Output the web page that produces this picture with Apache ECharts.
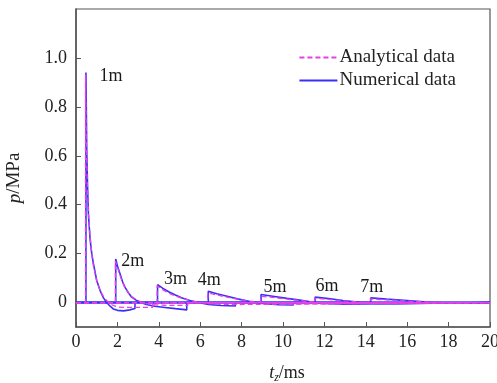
<!DOCTYPE html>
<html><head><meta charset="utf-8">
<script src="https://cdn.jsdelivr.net/npm/echarts@6/dist/echarts.min.js"></script>
<style>html,body{margin:0;padding:0;background:#fff}#c{width:497px;height:383px}</style>
</head><body><div id="c"></div>
<script>
// distances (labels) for each pulse
const distances = ['1m','2m','3m','4m','5m','6m','7m'];
const xTicks = [0,2,4,6,8,10,12,14,16,18,20];
const yTicks = [0,0.2,0.4,0.6,0.8,1.0];

// Numerical data: [t (ms), p (MPa)]
const num1m = [[0,0],[0.48,0],[0.48,0.94],[0.52,0.62],[0.56,0.47],[0.6,0.36],[0.68,0.26],[0.76,0.2],[0.84,0.16],[1.0,0.09],[1.16,0.05],[1.32,0.02],[1.48,0.0],[1.65,-0.015],[1.8,-0.026],[2.0,-0.032],[2.3,-0.034],[2.6,-0.03],[2.85,-0.024],[2.85,0],[20,0]];
const num2m = [[0,0],[1.92,0],[1.92,0.178],[2.0,0.15],[2.13,0.117],[2.25,0.085],[2.37,0.062],[2.53,0.04],[2.69,0.022],[2.9,0.01],[3.1,0.001],[3.4,-0.008],[3.8,-0.015],[4.3,-0.02],[4.8,-0.025],[5.35,-0.03],[5.35,0],[20,0]];
const num3m = [[0,0],[3.94,0],[3.94,0.073],[4.2,0.058],[4.5,0.043],[4.8,0.031],[5.1,0.02],[5.5,0.008],[5.9,0.0],[6.4,-0.008],[7.0,-0.012],[7.7,-0.014],[7.7,0],[20,0]];
const num4m = [[0,0],[6.39,0],[6.39,0.046],[6.8,0.036],[7.3,0.026],[7.8,0.015],[8.4,0.004],[9.0,-0.004],[9.8,-0.009],[10.5,-0.01],[10.5,0],[20,0]];
const num5m = [[0,0],[8.94,0],[8.94,0.033],[9.5,0.026],[10.2,0.017],[10.8,0.01],[11.4,0.002],[12.0,-0.004],[13.0,-0.007],[13.0,0],[20,0]];
const num6m = [[0,0],[11.55,0],[11.55,0.022],[12.2,0.016],[12.9,0.008],[13.7,0.001],[14.5,-0.004],[15.5,-0.005],[15.5,0],[20,0]];
const num7m = [[0,0],[14.24,0],[14.24,0.019],[15.0,0.014],[16.0,0.008],[17.1,0.001],[18.0,-0.002],[19.0,-0.002],[19.0,0],[20,0]];

// Analytical data: [t (ms), p (MPa)]
const ana1m = [[0,0],[0.46,0],[0.46,0.93],[0.5,0.66],[0.55,0.48],[0.6,0.37],[0.68,0.27],[0.76,0.2],[0.84,0.15],[1.0,0.09],[1.16,0.05],[1.32,0.025],[1.48,0.008],[1.65,-0.005],[1.8,-0.012],[2.0,-0.018],[2.4,-0.02],[2.85,-0.02],[3.7,-0.02],[3.7,0],[20,0]];
const ana2m = [[0,0],[1.9,0],[1.9,0.17],[2.0,0.145],[2.13,0.11],[2.25,0.082],[2.37,0.06],[2.53,0.04],[2.69,0.025],[2.9,0.012],[3.1,0.004],[3.4,-0.004],[3.8,-0.009],[4.5,-0.012],[5.4,-0.012],[5.4,0],[20,0]];
const ana3m = [[0,0],[3.92,0],[3.92,0.068],[4.2,0.052],[4.5,0.038],[4.8,0.027],[5.1,0.018],[5.5,0.009],[5.9,0.002],[6.4,-0.004],[7.0,-0.007],[7.9,-0.008],[7.9,0],[20,0]];
const ana4m = [[0,0],[6.37,0],[6.37,0.04],[6.8,0.031],[7.3,0.022],[7.8,0.014],[8.4,0.006],[9.0,0.0],[9.8,-0.005],[10.6,-0.006],[10.6,0],[20,0]];
const ana5m = [[0,0],[8.92,0],[8.92,0.026],[9.5,0.021],[10.2,0.014],[10.8,0.008],[11.4,0.003],[12.0,-0.002],[13.2,-0.004],[13.2,0],[20,0]];
const ana6m = [[0,0],[11.53,0],[11.53,0.018],[12.2,0.013],[12.9,0.007],[13.7,0.002],[14.5,-0.002],[15.7,-0.003],[15.7,0],[20,0]];
const ana7m = [[0,0],[14.22,0],[14.22,0.015],[15.0,0.011],[16.0,0.006],[17.1,0.002],[18.0,-0.001],[19.2,-0.002],[19.2,0],[20,0]];

const numerical = [num1m,num2m,num3m,num4m,num5m,num6m,num7m];
const analytical = [ana1m,ana2m,ana3m,ana4m,ana5m,ana6m,ana7m];

// label offsets (style, pixels) relative to each pulse peak
const labelOffsets = [[25,4],[17,2],[18,-5],[1,-11],[14,-7],[12,-11],[1,-11]];

const FONT = '"Liberation Serif", "Times New Roman", serif';
const BLUE = '#3a30f5';
const MAG = '#e640e6';

const series = [];
numerical.forEach(d => series.push({
  name: 'Numerical data', type: 'line', data: d, symbol: 'none', z: 2,
  lineStyle: {color: BLUE, width: 1.6}, itemStyle: {color: BLUE}, animation: false
}));
analytical.forEach(d => series.push({
  name: 'Analytical data', type: 'line', data: d, symbol: 'none', z: 3,
  lineStyle: {color: MAG, width: 1.3, type: [5,3]}, itemStyle: {color: MAG}, animation: false
}));
// peak labels
const peaks = numerical.map((d, i) => {
  let best = d[0];
  d.forEach(p => { if (p[1] > best[1]) best = p; });
  return {value: best, label: {offset: labelOffsets[i], formatter: distances[i]}};
});
series.push({
  type: 'scatter', data: peaks, symbolSize: 1, itemStyle: {color: 'rgba(0,0,0,0)'}, z: 5, silent: true,
  label: {show: true, position: 'inside', align: 'center', verticalAlign: 'middle',
          color: '#1a1a1a', textBorderWidth: 0, textBorderColor: 'transparent', opacity: 1,
          fontSize: 18, fontFamily: FONT}, animation: false
});

const chart = echarts.init(document.getElementById('c'), null, {renderer: 'canvas'});
chart.setOption({
  backgroundColor: '#fff',
  animation: false,
  grid: {left: 76, right: 7, top: 9, bottom: 56, show: true, borderColor: '#555', borderWidth: 1.2,
         backgroundColor: 'transparent', containLabel: false, outerBoundsMode: 'none'},
  legend: {
    data: ['Analytical data', 'Numerical data'], orient: 'vertical', right: 36, top: 43,
    itemWidth: 38, itemHeight: 12, itemGap: 4,
    itemStyle: {opacity: 0},
    textStyle: {fontFamily: FONT, fontSize: 19, color: '#222', padding: [0,0,0,-3]}
  },
  xAxis: {
    type: 'value', min: 0, max: 20, interval: 2,
    name: '{t|t}{s|z}{n|/ms}', nameLocation: 'middle', nameGap: 35,
    nameTextStyle: {padding: [0,0,0,8], rich: {
      t: {fontFamily: FONT, fontSize: 18, fontStyle: 'italic', color: '#222', lineHeight: 22},
      s: {fontFamily: FONT, fontSize: 12, fontStyle: 'italic', color: '#222', lineHeight: 22, verticalAlign: 'bottom', padding: [10,0,0,0]},
      n: {fontFamily: FONT, fontSize: 18, color: '#222', lineHeight: 22}
    }},
    axisLine: {onZero: false, lineStyle: {color: '#555', width: 1.5}},
    axisTick: {inside: true, length: 5, lineStyle: {color: '#555'}},
    axisLabel: {fontFamily: FONT, fontSize: 18, color: '#222', margin: 6},
    splitLine: {show: false}
  },
  yAxis: {
    type: 'value', min: -0.1, max: 1.2,
    name: '{i|p}{n|/MPa}', nameLocation: 'middle', nameGap: 52,
    nameTextStyle: {padding: [0,20,0,0], rich: {
      i: {fontFamily: FONT, fontSize: 19, fontStyle: 'italic', color: '#222'},
      n: {fontFamily: FONT, fontSize: 19, color: '#222'}
    }},
    axisLine: {show: true, onZero: false, lineStyle: {color: '#555', width: 1.5}},
    axisTick: {inside: true, length: 5, customValues: yTicks, lineStyle: {color: '#555'}},
    axisLabel: {fontFamily: FONT, fontSize: 18, color: '#222', margin: 9, customValues: yTicks,
      formatter: v => (Math.abs(v) < 1e-9 ? '0' : v.toFixed(1))},
    splitLine: {show: false}
  },
  series: series
});
</script></body></html>
